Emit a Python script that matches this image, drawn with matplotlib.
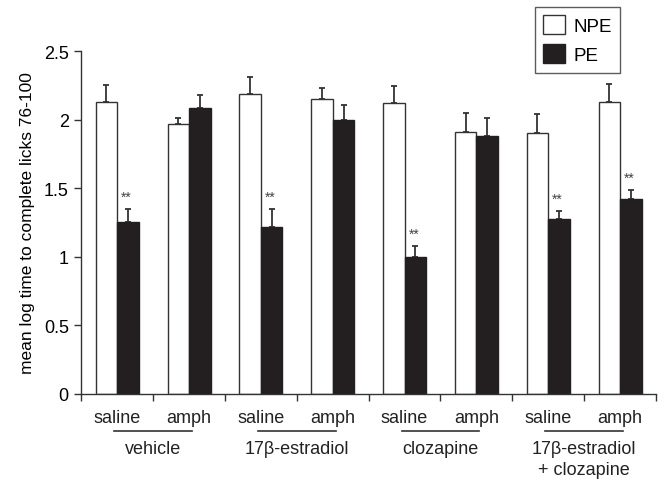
import matplotlib
matplotlib.use("Agg")
import matplotlib.pyplot as plt
from matplotlib.patches import Patch
import numpy as np

plt.rcParams['font.family'] = ['Liberation Sans', 'DejaVu Sans']

conditions = ["saline", "amph", "saline", "amph", "saline", "amph", "saline", "amph"]
groups = ["vehicle", "17\u03b2-estradiol", "clozapine", "17\u03b2-estradiol\n+ clozapine"]
npe_mean = [2.13, 1.97, 2.19, 2.15, 2.12, 1.91, 1.905, 2.13]
npe_err = [0.125, 0.045, 0.12, 0.085, 0.125, 0.14, 0.135, 0.13]
pe_mean = [1.255, 2.085, 1.22, 2.0, 1.0, 1.88, 1.277, 1.42]
pe_err = [0.09, 0.095, 0.13, 0.105, 0.075, 0.135, 0.055, 0.068]
signif = [True, False, True, False, True, False, True, True]
yticks = [0, 0.5, 1, 1.5, 2, 2.5]
ytick_labels = ["0", "0.5", "1", "1.5", "2", "2.5"]

fig = plt.figure(figsize=(6.67, 4.81), dpi=100)
ax = fig.add_axes([0.1219, 0.1798, 0.8616, 0.7115])

x = np.arange(len(conditions))
w = 0.3
dark = "#231f20"
ax.bar(x - w / 2, npe_mean, width=w, color="white", edgecolor="#333333", linewidth=1.0, zorder=2)
ax.bar(x + w / 2, pe_mean, width=w, color=dark, edgecolor=dark, linewidth=1.0, zorder=2)
ax.errorbar(x - w / 2, npe_mean, yerr=[np.zeros(len(x)), npe_err], fmt="none",
            ecolor="#333333", elinewidth=1.3, capsize=2.2, capthick=1.3, zorder=1)
ax.errorbar(x + w / 2, pe_mean, yerr=[np.zeros(len(x)), pe_err], fmt="none",
            ecolor="#333333", elinewidth=1.3, capsize=2.2, capthick=1.3, zorder=1)

for i, s in enumerate(signif):
    if s:
        ax.text(x[i] + w / 2 - 0.02, pe_mean[i] + pe_err[i] + 0.09, "**", ha="center", va="center",
                fontsize=10, color="#444444")

ax.set_xlim(-0.5, len(conditions) - 0.5)
ax.set_ylim(0, 2.5)
ax.set_yticks(yticks)
ax.set_yticklabels(ytick_labels, fontsize=13)
ax.set_xticks(np.arange(len(conditions) + 1) - 0.5)
ax.set_xticklabels([])
ax.tick_params(axis="both", direction="out", length=5, width=1.0, color="#333333")
ax.tick_params(axis="y", pad=4)
for sp in ["top", "right"]:
    ax.spines[sp].set_visible(False)
for sp in ["left", "bottom"]:
    ax.spines[sp].set_linewidth(1.0)
    ax.spines[sp].set_color("#333333")

ax.set_ylabel("mean log time to complete licks 76-100", fontsize=12.5, labelpad=6)

trans = ax.get_xaxis_transform()
for i, c in enumerate(conditions):
    ax.text(x[i], -0.045, c, transform=trans, ha="center", va="top", fontsize=13, color="#222222")
for g, name in enumerate(groups):
    cx = 2 * g + 0.5
    ax.plot([cx - 0.54, cx + 0.54], [-0.11, -0.11], transform=trans, color="#333333",
            linewidth=1.2, clip_on=False)
    ax.text(cx, -0.135, name, transform=trans, ha="center", va="top", fontsize=13,
            color="#222222", linespacing=1.35)

handles = [Patch(facecolor="white", edgecolor="#333333", linewidth=1.0, label="NPE"),
           Patch(facecolor=dark, edgecolor=dark, linewidth=1.0, label="PE")]
leg = fig.legend(handles=handles, loc="upper left", bbox_to_anchor=(535 / 667, 1 - 8 / 481),
                 borderaxespad=0, fontsize=13.5, frameon=True, fancybox=False, edgecolor="#333333",
                 handlelength=1.15, handleheight=1.15, handletextpad=0.45, borderpad=0.45,
                 labelspacing=0.5)
leg.get_frame().set_linewidth(1.0)

fig.savefig("out.png", dpi=100)
